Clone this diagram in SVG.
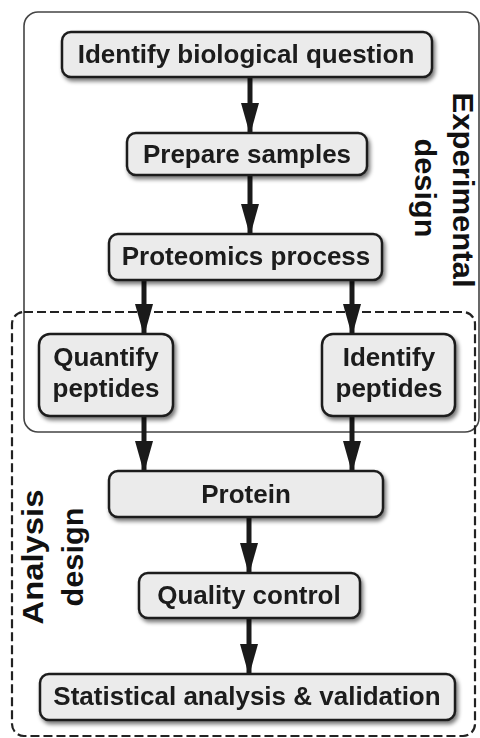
<svg xmlns="http://www.w3.org/2000/svg" width="480" height="738" viewBox="0 0 480 738">
<defs>
<filter id="sh" x="-10%" y="-20%" width="125%" height="150%">
<feGaussianBlur in="SourceAlpha" stdDeviation="2"/>
<feOffset dx="2" dy="3" result="b"/>
<feComponentTransfer><feFuncA type="linear" slope="0.55"/></feComponentTransfer>
<feMerge><feMergeNode/><feMergeNode in="SourceGraphic"/></feMerge>
</filter>
<marker id="ah" markerUnits="userSpaceOnUse" markerWidth="32" markerHeight="20" refX="30" refY="10" orient="auto" viewBox="0 0 32 20">
<path d="M0,1 L32,10 L0,19 Z" fill="#1a1a1a"/>
</marker>
<style>
.box{fill:#ebebeb;stroke:#1e1e1e;stroke-width:2.5}
.lbl{font-family:"Liberation Sans",Arial,sans-serif;font-weight:bold;font-size:26px;fill:#1a1a1a;text-anchor:middle}
.side{font-family:"Liberation Sans",Arial,sans-serif;font-weight:bold;font-size:30px;fill:#111;text-anchor:middle}
.arr{stroke:#1a1a1a;stroke-width:5;fill:none;marker-end:url(#ah)}
</style>
</defs>
<g id="experimental-design">
<rect x="24" y="12" width="455" height="420" rx="14" fill="none" stroke="#444" stroke-width="1.6"/>
<text class="side" transform="translate(453,190) rotate(90)" textLength="195" lengthAdjust="spacingAndGlyphs">Experimental</text>
<text class="side" transform="translate(415,188) rotate(90)" textLength="99" lengthAdjust="spacingAndGlyphs">design</text>
</g>
<g id="analysis-design">
<rect x="12" y="312" width="463" height="424" rx="12" fill="none" stroke="#222" stroke-width="2.2" stroke-dasharray="9 4"/>
<text class="side" transform="translate(43,557) rotate(-90)" textLength="135" lengthAdjust="spacingAndGlyphs">Analysis</text>
<text class="side" transform="translate(83,557) rotate(-90)" textLength="99" lengthAdjust="spacingAndGlyphs">design</text>
</g>
<g id="connectors">
<line class="arr" x1="250" y1="78" x2="250" y2="133"/>
<line class="arr" x1="250" y1="176" x2="250" y2="234"/>
<line class="arr" x1="144" y1="281" x2="144" y2="334"/>
<line class="arr" x1="352" y1="281" x2="352" y2="334"/>
<line class="arr" x1="144" y1="417" x2="144" y2="471"/>
<line class="arr" x1="352" y1="417" x2="352" y2="471"/>
<line class="arr" x1="249" y1="518" x2="249" y2="573"/>
<line class="arr" x1="249" y1="619" x2="249" y2="674"/>
</g>
<g id="n1" filter="url(#sh)">
<rect class="box" x="62" y="32" width="370" height="45" rx="9"/>
<text class="lbl" x="246" y="63">Identify biological question</text>
</g>
<g id="n2" filter="url(#sh)">
<rect class="box" x="127" y="133" width="240" height="42" rx="9"/>
<text class="lbl" x="247" y="163">Prepare samples</text>
</g>
<g id="n3" filter="url(#sh)">
<rect class="box" x="109" y="234" width="273" height="46" rx="9"/>
<text class="lbl" x="246" y="265">Proteomics process</text>
</g>
<g id="n4" filter="url(#sh)">
<rect class="box" x="39" y="334" width="134" height="82" rx="11"/>
<text class="lbl" x="106" y="366">Quantify</text>
<text class="lbl" x="106" y="397">peptides</text>
</g>
<g id="n5" filter="url(#sh)">
<rect class="box" x="322" y="334" width="133" height="82" rx="11"/>
<text class="lbl" x="389" y="366">Identify</text>
<text class="lbl" x="389" y="397">peptides</text>
</g>
<g id="n6" filter="url(#sh)">
<rect class="box" x="109" y="471" width="274" height="46" rx="9"/>
<text class="lbl" x="246" y="503">Protein</text>
</g>
<g id="n7" filter="url(#sh)">
<rect class="box" x="139" y="573" width="221" height="45" rx="9"/>
<text class="lbl" x="249" y="604">Quality control</text>
</g>
<g id="n8" filter="url(#sh)">
<rect class="box" x="40" y="674" width="415" height="46" rx="9"/>
<text class="lbl" x="247" y="705">Statistical analysis &amp; validation</text>
</g>
</svg>
